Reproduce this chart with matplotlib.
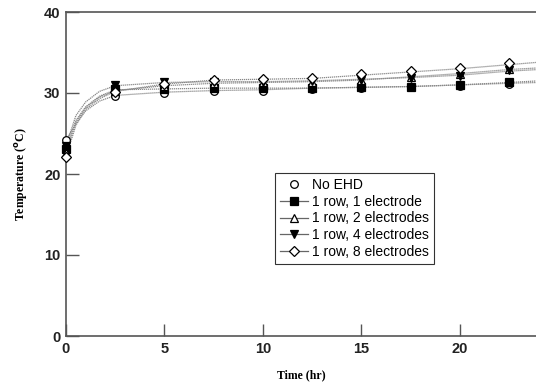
import matplotlib.pyplot as plt

# marker readings (every 2.5 hr)
t_mark = [0, 2.5, 5, 7.5, 10, 12.5, 15, 17.5, 20, 22.5]
no_ehd = [24.2, 29.6, 30.0, 30.2, 30.3, 30.5, 30.6, 30.7, 30.9, 31.1]
r1_e1 = [23.1, 30.5, 30.5, 30.6, 30.6, 30.6, 30.7, 30.7, 31.0, 31.4]
r1_e2 = [22.6, 30.2, 30.9, 31.2, 31.3, 31.4, 31.6, 32.0, 32.4, 33.0]
r1_e4 = [23.5, 31.0, 31.3, 31.4, 31.4, 31.5, 31.6, 31.8, 32.1, 32.8]
r1_e8 = [22.1, 30.1, 31.1, 31.6, 31.7, 31.8, 32.3, 32.7, 33.1, 33.7]

# thin trace readings
t_line = [0, 0.5, 1, 1.7, 2.5, 5, 7.5, 10, 12.5, 15, 17.5, 20, 22.5, 24]
no_ehd_l = [24.2, 26.2, 27.8, 29.0, 29.7, 30.1, 30.3, 30.4, 30.6, 30.7, 30.8, 31.0, 31.2, 31.3]
r1_e1_l = [23.1, 26.6, 28.3, 29.6, 30.4, 30.5, 30.6, 30.6, 30.6, 30.7, 30.8, 31.0, 31.3, 31.5]
r1_e2_l = [22.6, 26.4, 28.2, 29.5, 30.3, 30.9, 31.2, 31.3, 31.4, 31.6, 32.0, 32.4, 32.9, 33.1]
r1_e4_l = [23.5, 27.2, 28.9, 30.2, 30.9, 31.3, 31.4, 31.4, 31.5, 31.7, 31.9, 32.2, 32.7, 32.9]
r1_e8_l = [22.1, 26.0, 28.0, 29.3, 30.2, 31.1, 31.6, 31.7, 31.8, 32.2, 32.6, 33.0, 33.5, 33.8]

fig = plt.figure(figsize=(5.36, 3.87), dpi=100)
ax = fig.add_axes([66 / 536, 51 / 387, 470 / 536, 324 / 387])

series = [
    ('No EHD', no_ehd, no_ehd_l, 'o', 'white', 5.5),
    ('1 row, 1 electrode', r1_e1, r1_e1_l, 's', 'black', 5.5),
    ('1 row, 2 electrodes', r1_e2, r1_e2_l, '^', 'white', 6),
    ('1 row, 4 electrodes', r1_e4, r1_e4_l, 'v', 'black', 6),
    ('1 row, 8 electrodes', r1_e8, r1_e8_l, 'D', 'white', 5.5),
]

handles = []
for name, ym, yl, mk, fc, ms in series:
    ax.plot(t_line, yl, color='#888888', lw=0.9, ls=(0, (1, 0.6)), zorder=2)
    ax.plot(t_mark, ym, ls='none', marker=mk, ms=ms, mfc=fc, mec='black',
            mew=0.9, zorder=3, clip_on=False)
    h, = ax.plot([], [], color='#666666' if name != 'No EHD' else 'none',
                 lw=0.9, marker=mk, ms=ms, mfc=fc, mec='black', mew=0.9,
                 label=name)
    handles.append(h)

ax.set_xlim(0, 23.86)
ax.set_ylim(0, 40)
ax.set_xticks([0, 5, 10, 15, 20])
ax.set_yticks([0, 10, 20, 30, 40])

for s in ['left', 'top', 'bottom']:
    ax.spines[s].set_color('#555555')
    ax.spines[s].set_linewidth(1.2)
ax.spines['right'].set_visible(False)
ax.tick_params(direction='in', length=9, width=1.0, color='#555555',
               labelsize=10.5, pad=4)
for lab in ax.get_xticklabels() + ax.get_yticklabels():
    lab.set_fontweight('bold')
    lab.set_family('Liberation Sans')
    lab.set_color('#222222')

ax.set_xlabel('Time (hr)', family='Liberation Serif', fontweight='bold',
              fontsize=8.5, labelpad=10)
ax.set_ylabel(r'Temperature ($^{\mathbf{o}}$C)', family='Liberation Serif',
              fontweight='bold', fontsize=8.5, labelpad=10)

leg = ax.legend(handles=handles, loc='upper left',
                bbox_to_anchor=((275 - 66) / 470, (387 - 173 - 51) / 324),
                frameon=True, fancybox=False, edgecolor='black',
                prop={'family': 'Liberation Sans', 'size': 10},
                handlelength=2.0, handletextpad=0.3, labelspacing=0.2,
                borderpad=0.35, borderaxespad=0)
leg.get_frame().set_linewidth(0.8)

fig.savefig('out.png', dpi=100)
